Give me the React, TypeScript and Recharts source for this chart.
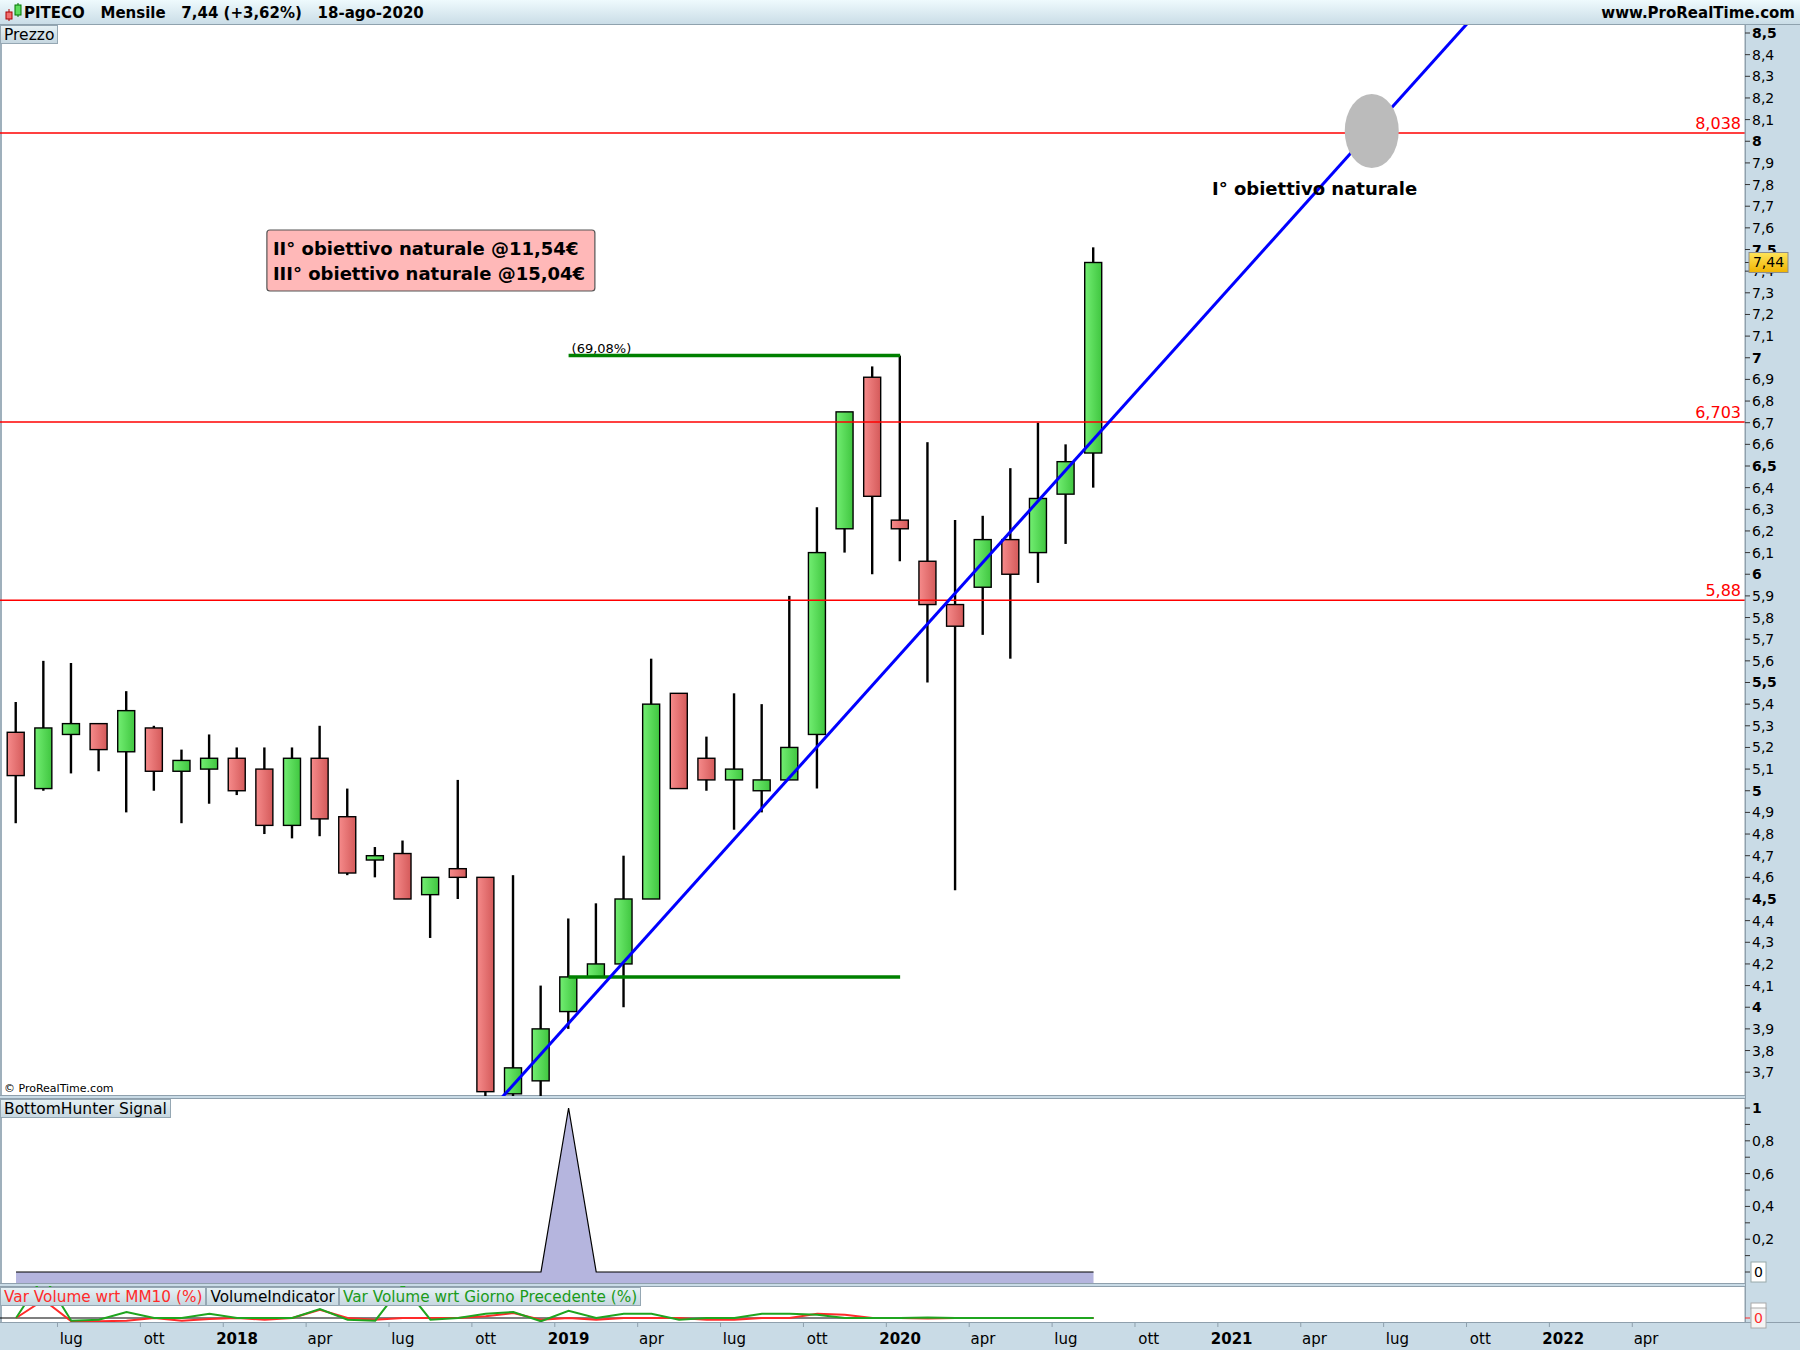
import React from 'react'
import {
  ComposedChart, Bar, Area, Line, XAxis, YAxis, ReferenceLine, ReferenceDot,
} from 'recharts'

const FONT = "'DejaVu Sans', sans-serif"

// monthly candles, mag 2017 -> ago 2020
const months = [
  'mag 17', 'giu 17', 'lug 17', 'ago 17', 'set 17', 'ott 17', 'nov 17', 'dic 17',
  'gen 18', 'feb 18', 'mar 18', 'apr 18', 'mag 18', 'giu 18', 'lug 18', 'ago 18', 'set 18', 'ott 18', 'nov 18', 'dic 18',
  'gen 19', 'feb 19', 'mar 19', 'apr 19', 'mag 19', 'giu 19', 'lug 19', 'ago 19', 'set 19', 'ott 19', 'nov 19', 'dic 19',
  'gen 20', 'feb 20', 'mar 20', 'apr 20', 'mag 20', 'giu 20', 'lug 20', 'ago 20',
]
const opens = [
  5.27, 5.01, 5.26, 5.31, 5.18, 5.29, 5.09, 5.10,
  5.15, 5.10, 4.84, 5.15, 4.88, 4.68, 4.71, 4.52, 4.64, 4.60, 3.60, 3.66,
  3.98, 4.14, 4.20, 4.50, 5.45, 5.15, 5.05, 5.00, 5.05, 5.26, 6.21, 6.91,
  6.25, 6.06, 5.86, 5.94, 6.16, 6.10, 6.37, 6.56,
]
const highs = [
  5.41, 5.60, 5.59, 5.31, 5.46, 5.30, 5.19, 5.26,
  5.20, 5.20, 5.20, 5.30, 5.01, 4.74, 4.77, 4.60, 5.05, 4.60, 4.61, 4.10,
  4.41, 4.48, 4.70, 5.61, 5.45, 5.25, 5.45, 5.40, 5.90, 6.31, 6.75, 6.96,
  7.01, 6.61, 6.25, 6.27, 6.49, 6.70, 6.60, 7.51,
]
const lows = [
  4.85, 5.00, 5.08, 5.09, 4.90, 5.00, 4.85, 4.94,
  4.98, 4.80, 4.78, 4.79, 4.61, 4.60, 4.50, 4.32, 4.50, 3.50, 3.50, 3.55,
  3.90, 4.14, 4.00, 4.50, 5.01, 5.00, 4.82, 4.90, 5.05, 5.01, 6.10, 6.00,
  6.06, 5.50, 4.54, 5.72, 5.61, 5.96, 6.14, 6.40,
]
const closes = [
  5.07, 5.29, 5.31, 5.19, 5.37, 5.09, 5.14, 5.15,
  5.00, 4.84, 5.15, 4.87, 4.62, 4.70, 4.50, 4.60, 4.60, 3.61, 3.72, 3.90,
  4.14, 4.20, 4.50, 5.40, 5.01, 5.05, 5.10, 5.05, 5.20, 6.10, 6.75, 6.36,
  6.21, 5.86, 5.76, 6.16, 6.00, 6.35, 6.52, 7.44,
]
const bottomHunter = [
  0, 0, 0, 0, 0, 0, 0, 0, 0, 0, 0, 0, 0, 0, 0, 0, 0, 0, 0, 0,
  1, 0, 0, 0, 0, 0, 0, 0, 0, 0, 0, 0, 0, 0, 0, 0, 0, 0, 0, 0,
]
const varVolMM10 = [
  0, 180, -33, -33, -27, 0, -27, -10, 0, -17, 0, 83, 0, -17, 0, 0, 0, 17, 50, -17,
  0, -17, 0, 0, 0, -17, -17, 0, 0, 43, 33, 0, 0, -5, 0, 0, 0, 0, 0, 0,
]
const varVolPrev = [
  0, 420, -27, -17, 60, 0, 0, 43, 0, 0, 0, 90, -17, -27, 330, -17, 0, 43, 60, -33,
  73, 0, 43, 43, -17, 0, 0, 43, 43, 33, 0, 0, 0, 5, 0, 0, 0, 0, 0, 0,
]

const lastPrice = 7.44
const lastPriceLabel = '7,44'
// the last price goes at the end so its tag is painted over 7,4 / 7,5
const priceTicks = [
  3.7, 3.8, 3.9, 4, 4.1, 4.2, 4.3, 4.4, 4.5, 4.6, 4.7, 4.8, 4.9, 5, 5.1, 5.2, 5.3, 5.4, 5.5,
  5.6, 5.7, 5.8, 5.9, 6, 6.1, 6.2, 6.3, 6.4, 6.5, 6.6, 6.7, 6.8, 6.9, 7, 7.1, 7.2, 7.3, 7.4,
  7.5, 7.6, 7.7, 7.8, 7.9, 8, 8.1, 8.2, 8.3, 8.4, 8.5, lastPrice,
]
const signalTicks = [0, 0.1, 0.2, 0.3, 0.4, 0.5, 0.6, 0.7, 0.8, 0.9, 1]
const timeTicks = [2, 5, 8, 11, 14, 17, 20, 23, 26, 29, 32, 35, 38, 41, 44, 47, 50, 53, 56, 59]
const timeLabels = [
  'lug', 'ott', '2018', 'apr', 'lug', 'ott', '2019', 'apr', 'lug', 'ott',
  '2020', 'apr', 'lug', 'ott', '2021', 'apr', 'lug', 'ott', '2022', 'apr',
]

const levels = [8.038, 6.703, 5.88]
const levelLabels = ['8,038', '6,703', '5,88']

const data = months.map((m, i) => ({
  i,
  month: m,
  open: opens[i],
  high: highs[i],
  low: lows[i],
  close: closes[i],
  range: [lows[i], highs[i]],
  bh: bottomHunter[i],
  mm10: varVolMM10[i],
  prev: varVolPrev[i],
}))

const X_DOMAIN: [number, number] = [-0.58, 62.58]
const PRICE_DOMAIN: [number, number] = [3.59, 8.537]

const fmt = (v: number) => {
  const s = Math.abs(v - Math.round(v)) < 1e-6 ? String(Math.round(v)) : v.toFixed(1)
  return s.replace('.', ',')
}
const isMajor = (v: number) => Math.abs(v * 2 - Math.round(v * 2)) < 1e-6

const Candle = (props: any) => {
  const { x, y, width, height, payload } = props
  if (x == null || y == null) return null
  const top = Math.min(y, y + height)
  const h = Math.abs(height)
  const { open, close, high, low } = payload
  const k = h / (high - low)
  const yOf = (v: number) => top + (high - v) * k
  const bTop = yOf(Math.max(open, close))
  const bBot = yOf(Math.min(open, close))
  const cx = x + width / 2
  const up = close >= open
  return (
    <g>
      <line x1={cx} x2={cx} y1={top} y2={top + h} stroke="#000" strokeWidth={2.4} />
      <rect x={x} y={bTop} width={width} height={Math.max(bBot - bTop, 1)}
        fill={up ? 'url(#gUp)' : 'url(#gDown)'} stroke="#000" strokeWidth={1.4} />
    </g>
  )
}

const PriceTick = (props: any) => {
  const { x, y, payload } = props
  const v = payload.value
  if (v === lastPrice) {
    return (
      <g>
        <rect x={x - 3} y={y - 10} width={39} height={20} fill="url(#gTag)" stroke="#8d8d8d" />
        <text x={x + 16.5} y={y} dy={5} textAnchor="middle" fontSize={14} fontFamily={FONT}>{lastPriceLabel}</text>
      </g>
    )
  }
  return (
    <text x={x} y={y} dy={5} textAnchor="start" fontSize={14} fontFamily={FONT}
      fontWeight={isMajor(v) ? 700 : 400} fill="#000">{fmt(v)}</text>
  )
}

const SignalTick = (props: any) => {
  const { x, y, payload } = props
  const v = payload.value
  if (v === 0) {
    return (
      <g>
        <rect x={x - 1} y={y - 10} width={15} height={20} fill="#fff" stroke="#9aa" />
        <text x={x + 6.5} y={y} dy={5} textAnchor="middle" fontSize={14} fontFamily={FONT}>0</text>
      </g>
    )
  }
  if (Math.abs(v * 5 - Math.round(v * 5)) > 1e-6) return null
  return (
    <text x={x} y={y} dy={5} textAnchor="start" fontSize={14} fontFamily={FONT}
      fontWeight={v === 1 ? 700 : 400}>{fmt(v)}</text>
  )
}

const VolumeTick = (props: any) => {
  const { x, y } = props
  return (
    <g>
      <rect x={x - 1} y={y - 15} width={15} height={6} fill="#fff" stroke="#aaa" />
      <rect x={x - 1} y={y - 10} width={15} height={20} fill="#f4f4f4" stroke="#aaa" />
      <text x={x + 6.5} y={y} dy={5} textAnchor="middle" fontSize={14} fill="#ff2a2a" fontFamily={FONT}>0</text>
    </g>
  )
}

const TimeTick = (props: any) => {
  const { x, y, payload } = props
  const label = timeLabels[timeTicks.indexOf(payload.value)]
  const bold = /^\d{4}$/.test(label)
  return (
    <g>
      <line x1={x - 13.8} x2={x - 13.8} y1={y - 8} y2={y - 3} stroke="#8fa0ad" />
      <text x={x} y={y} dy={14} textAnchor="middle" fontSize={15} fontFamily={FONT}
        fontWeight={bold ? 700 : 400} fill="#000">{label}</text>
    </g>
  )
}

const labelBox: React.CSSProperties = {
  position: 'absolute',
  background: 'linear-gradient(#e6f1f5, #c6d7e0)',
  border: '1px solid #95a7b3',
  fontFamily: FONT,
  fontSize: 15.5,
  lineHeight: '18px',
  padding: '0 3px',
  whiteSpace: 'pre',
  boxSizing: 'border-box',
}

export default function App() {
  return (
    <div style={{
      position: 'absolute', left: 0, top: 0, width: 1800, height: 1350,
      background: '#fff', overflow: 'hidden', fontFamily: FONT,
    }}>
      {/* title bar */}
      <div style={{
        position: 'absolute', left: 0, top: 0, width: 1800, height: 24,
        background: 'linear-gradient(#eefafd, #cadde7)', borderBottom: '1px solid #8fa2ae',
      }}>
        <svg width={22} height={24} style={{ position: 'absolute', left: 3, top: 0 }}>
          <line x1={6} x2={6} y1={9} y2={21} stroke="#a00" />
          <rect x={3} y={12} width={6} height={7} fill="#f07070" stroke="#a00" />
          <line x1={15} x2={15} y1={3} y2={17} stroke="#070" />
          <rect x={12} y={5} width={6} height={10} fill="#5ddd5d" stroke="#070" />
        </svg>
        <div style={{
          position: 'absolute', left: 24, top: 4, fontSize: 15, fontWeight: 700, whiteSpace: 'pre',
        }}>{'PITECO   Mensile   7,44 (+3,62%)   18-ago-2020'}</div>
        <div style={{
          position: 'absolute', right: 5, top: 4, fontSize: 15, fontWeight: 700,
        }}>www.ProRealTime.com</div>
      </div>

      {/* axis strips */}
      <div style={{
        position: 'absolute', left: 1745, top: 25, width: 55, height: 1325,
        background: '#c9dbe6', borderLeft: '1px solid #8fa0ad', boxSizing: 'border-box',
      }} />
      <div style={{
        position: 'absolute', left: 0, top: 1322, width: 1800, height: 28,
        background: '#c9dbe6', borderTop: '1px solid #8fa0ad', boxSizing: 'border-box',
      }} />
      <div style={{ position: 'absolute', left: 0, top: 25, width: 2, height: 1297, background: '#9fb0bc' }} />
      {/* panel separators */}
      <div style={{
        position: 'absolute', left: 0, top: 1095, width: 1745, height: 4, background: '#c9dbe6',
        borderTop: '1px solid #8fa0ad', borderBottom: '1px solid #8fa0ad', boxSizing: 'border-box',
      }} />
      <div style={{
        position: 'absolute', left: 0, top: 1283, width: 1745, height: 4, background: '#c9dbe6',
        borderTop: '1px solid #8fa0ad', borderBottom: '1px solid #8fa0ad', boxSizing: 'border-box',
      }} />

      {/* price panel */}
      <div style={{ position: 'absolute', left: 0, top: 25 }}>
        <ComposedChart width={1800} height={1071} data={data} margin={{ top: 0, right: 0, bottom: 0, left: 0 }}>
          <defs>
            <linearGradient id="gUp" x1="0" y1="0" x2="1" y2="0">
              <stop offset="0%" stopColor="#72ee72" />
              <stop offset="100%" stopColor="#40c640" />
            </linearGradient>
            <linearGradient id="gDown" x1="0" y1="0" x2="1" y2="0">
              <stop offset="0%" stopColor="#f68b8b" />
              <stop offset="100%" stopColor="#d45a5a" />
            </linearGradient>
            <linearGradient id="gTag" x1="0" y1="0" x2="0" y2="1">
              <stop offset="0%" stopColor="#ffe45a" />
              <stop offset="100%" stopColor="#f0b400" />
            </linearGradient>
          </defs>
          <XAxis dataKey="i" type="number" domain={X_DOMAIN} allowDataOverflow hide />
          <YAxis orientation="right" width={55} domain={PRICE_DOMAIN} allowDataOverflow
            ticks={priceTicks} interval={0} tick={PriceTick} tickSize={5}
            tickLine={{ stroke: '#333' }} axisLine={{ stroke: '#8fa0ad' }} />
          <ReferenceDot x={49.07} y={8.038} ifOverflow="visible"
            shape={(p: any) => <ellipse cx={p.cx} cy={p.cy - 2} rx={27} ry={37} fill="#bbbbbb" />} />
          {levels.map((lv, k) => (
            <ReferenceLine key={lv} y={lv} stroke="#ff0000" strokeWidth={1.6}
              label={{ value: levelLabels[k], position: 'insideBottomRight', offset: 4, fill: '#ff0000', fontSize: 16, fontFamily: FONT }} />
          ))}
          <ReferenceLine segment={[{ x: 20, y: 7.01 }, { x: 32, y: 7.01 }]} stroke="#008000" strokeWidth={3.5}
            label={{ value: '(69,08%)', position: 'insideBottomLeft', offset: 3, fill: '#000', fontSize: 13, fontFamily: FONT }} />
          <ReferenceLine segment={[{ x: 20, y: 4.14 }, { x: 32, y: 4.14 }]} stroke="#008000" strokeWidth={3.5} />
          <Bar dataKey="range" barSize={17} shape={Candle} isAnimationActive={false} />
          <ReferenceLine segment={[{ x: 17.0, y: 3.50 }, { x: 53.0, y: 8.611 }]} ifOverflow="hidden"
            stroke="#0000ff" strokeWidth={3} />
          <ReferenceDot x={47.0} y={7.752} ifOverflow="visible"
            shape={(p: any) => (
              <text x={p.cx} y={p.cy} textAnchor="middle" fontSize={18} fontWeight={700} fontFamily={FONT}>
                I° obiettivo naturale
              </text>
            )} />
          <ReferenceDot x={9.08} y={7.59} ifOverflow="visible"
            shape={(p: any) => (
              <g>
                <rect x={p.cx} y={p.cy} width={328} height={61} rx={3} fill="#ffb8b8" stroke="#555" strokeWidth={1.2} />
                <text x={p.cx + 6} y={p.cy + 25} fontSize={18} fontWeight={700} fontFamily={FONT}>II° obiettivo naturale @11,54€</text>
                <text x={p.cx + 6} y={p.cy + 50} fontSize={18} fontWeight={700} fontFamily={FONT}>III° obiettivo naturale @15,04€</text>
              </g>
            )} />
        </ComposedChart>
      </div>

      {/* BottomHunter panel */}
      <div style={{ position: 'absolute', left: 0, top: 1099 }}>
        <ComposedChart width={1800} height={184} data={data} margin={{ top: 0, right: 0, bottom: 0, left: 0 }}>
          <XAxis dataKey="i" type="number" domain={X_DOMAIN} allowDataOverflow hide />
          <YAxis orientation="right" width={55} domain={[-0.067, 1.055]} allowDataOverflow
            ticks={signalTicks} interval={0} tick={SignalTick} tickSize={5}
            tickLine={{ stroke: '#333' }} axisLine={{ stroke: '#8fa0ad' }} />
          <Area dataKey="bh" type="linear" baseValue="dataMin" fill="#b5b5de" fillOpacity={1}
            stroke="#000" strokeWidth={1.2} dot={false} activeDot={false} isAnimationActive={false} />
        </ComposedChart>
      </div>

      {/* volume panel + time axis */}
      <div style={{ position: 'absolute', left: 0, top: 1286 }}>
        <ComposedChart width={1800} height={64} data={data} margin={{ top: 0, right: 0, bottom: 0, left: 0 }}>
          <XAxis dataKey="i" type="number" domain={X_DOMAIN} allowDataOverflow height={28}
            ticks={timeTicks} interval={0} tick={TimeTick} tickLine={false} axisLine={false} />
          <YAxis orientation="right" width={55} domain={[-40, 320]} allowDataOverflow
            ticks={[0]} tick={VolumeTick} tickSize={5}
            tickLine={{ stroke: '#ff2a2a' }} axisLine={{ stroke: '#8fa0ad' }} />
          <ReferenceLine segment={[{ x: X_DOMAIN[0], y: 0 }, { x: 39, y: 0 }]} stroke="#000" strokeWidth={1.2} />
          <Line dataKey="mm10" type="linear" stroke="#ff2a2a" strokeWidth={2} dot={false} activeDot={false} isAnimationActive={false} />
          <Line dataKey="prev" type="linear" stroke="#1fa51f" strokeWidth={2} dot={false} activeDot={false} isAnimationActive={false} />
        </ComposedChart>
      </div>

      {/* panel title boxes */}
      <div style={{ ...labelBox, left: 0, top: 25, height: 19 }}>Prezzo</div>
      <div style={{
        position: 'absolute', left: 4, top: 1082, fontSize: 11, fontFamily: FONT,
      }}>© ProRealTime.com</div>
      <div style={{ ...labelBox, left: 0, top: 1099, height: 19 }}>BottomHunter Signal</div>
      <div style={{ position: 'absolute', left: 0, top: 1287, display: 'flex' }}>
        <div style={{ ...labelBox, position: 'relative', height: 19, color: '#ff2a2a', fontSize: 15.3 }}>Var Volume wrt MM10 (%)</div>
        <div style={{ ...labelBox, position: 'relative', height: 19, color: '#000', fontSize: 15.3 }}>VolumeIndicator</div>
        <div style={{ ...labelBox, position: 'relative', height: 19, color: '#1a9a1a', fontSize: 15.3 }}>Var Volume wrt Giorno Precedente (%)</div>
      </div>
    </div>
  )
}
